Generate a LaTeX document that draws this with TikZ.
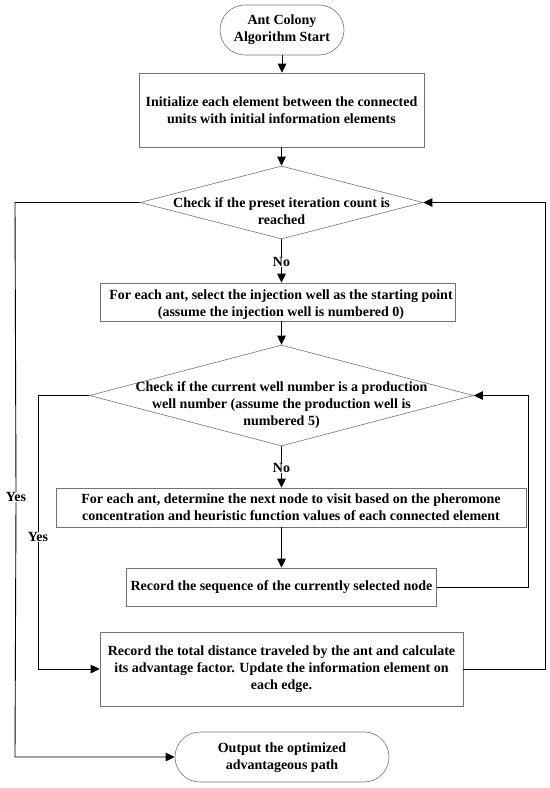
\documentclass[tikz,border=0pt]{standalone}
\usepackage{fontspec}
\setmainfont{Liberation Serif}
\usetikzlibrary{arrows.meta,shapes.geometric,positioning}
\begin{document}
\begin{tikzpicture}[x=1bp,y=-1bp,
  box/.style={draw=black!55,line width=0.6bp,rectangle,inner sep=0},
  dia/.style={draw=black!55,line width=0.6bp,diamond,inner sep=0},
  txt/.style={align=center,inner sep=0,font=\fontsize{14bp}{17bp}\bfseries\selectfont},
  lbl/.style={inner sep=0,font=\fontsize{14bp}{15bp}\bfseries\selectfont},
  conn/.style={draw=black,line width=0.9bp},
  arr/.style={conn,-{Triangle[length=9bp,width=8.5bp]}}
]
\useasboundingbox (0,0) rectangle (550,788);
% shapes
\node[box,minimum width=124bp,minimum height=50bp,rounded corners=25bp] (start) at (282,30) {};
\node[txt] (starttxt) at (282,30) {Ant Colony\\Algorithm Start};
\node[box,minimum width=285bp,minimum height=74bp] (init) at (281.5,110) {};
\node[txt] at (281.5,110) {Initialize each element between the connected\\units with initial information elements};
\node[dia,minimum width=283bp,minimum height=73bp] (d1) at (281.5,202.5) {};
\node[txt] at (281.5,211) {Check if the preset iteration count is\\reached};
\node[box,minimum width=355bp,minimum height=38bp] (b2) at (278,302) {};
\node[txt] at (281,304.5) {For each ant, select the injection well as the starting point\\(assume the injection well is numbered 0)};
\node[dia,minimum width=384bp,minimum height=101bp] (d2) at (281.5,395.5) {};
\node[txt] at (281.5,405) {Check if the current well number is a production\\well number (assume the production well is\\numbered 5)};
\node[box,minimum width=470bp,minimum height=39bp] (b3) at (291,507.5) {};
\node[txt] at (291,507.5) {For each ant, determine the next node to visit based on the pheromone\\concentration and heuristic function values of each connected element};
\node[box,minimum width=310bp,minimum height=38bp] (b4) at (281.5,587) {};
\node[txt] at (281.5,587) {Record the sequence of the currently selected node};
\node[box,minimum width=363bp,minimum height=74bp] (b5) at (281.5,669) {};
\node[txt] at (281.5,669) {Record the total distance traveled by the ant and calculate\\its advantage factor. Update the information element on\\each edge.};
\node[box,minimum width=214bp,minimum height=50bp,rounded corners=25bp] (out) at (282,757) {};
\node[txt] at (282,757.5) {Output the optimized\\advantageous path};
% labels
\node[lbl] (no1) at (281.5,262) {No};
\node[lbl] (no2) at (281.5,468) {No};
\node[lbl] (yes1) at (16,497) {Yes};
\node[lbl] (yes2) at (38,537) {Yes};
% helper coordinates
\coordinate (l1) at (15,202.5);
\coordinate (l1b) at (15,757);
\coordinate (r1) at (545,202.5);
\coordinate (r1b) at (545,669);
\coordinate (l2) at (38,395.5);
\coordinate (l2b) at (38,669);
\coordinate (r2) at (528,395.5);
\coordinate (r2b) at (528,587);
% connectors
\draw[arr] (start.south) -- (start.south |- init.north);
\draw[arr] (init.south) -- (d1.north);
\draw[conn] (d1.south) -- (no1.north);
\draw[arr] (no1.south) -- (no1.south |- b2.north);
\draw[arr] (b2.south -| d2.north) -- (d2.north);
\draw[conn] (d2.south) -- (no2.north);
\draw[arr] (no2.south) -- (no2.south |- b3.north);
\draw[arr] (b4.north |- b3.south) -- (b4.north);
\draw[arr] (b4.east) -- (r2b) -- (r2) -- (d2.east);
\draw[arr] (b5.east) -- (r1b) -- (r1) -- (d1.east);
\draw[conn] (d1.west) -- (l1) -- (yes1.north);
\draw[arr] (yes1.south) -- (l1b) -- (out.west);
\draw[conn] (d2.west) -- (l2) -- (yes2.north);
\draw[arr] (yes2.south) -- (l2b) -- (b5.west);
\end{tikzpicture}
\end{document}
